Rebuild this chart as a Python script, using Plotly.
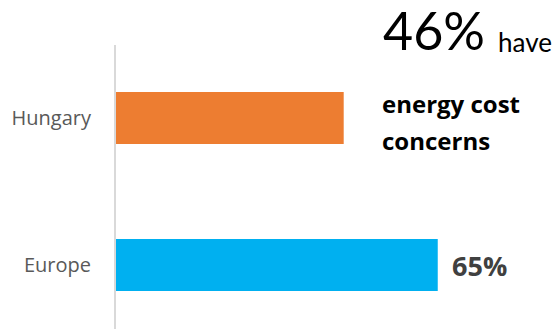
import plotly.graph_objects as go

categories = ["Europe", "Hungary"]
values = [65, 46]
colors = ["#00B0F0", "#ED7D31"]
headline_value = "46%"
headline_word = "have"
headline_rest = ["energy cost", "concerns"]
europe_label = "65%"

W, H = 556, 331
pl, pr, pt, pb = 116, 44, 45, 2
pw, ph = W - pl - pr, H - pt - pb


def px(xp):
    return (xp - pl) / pw


def py(yp):
    return (H - pb - yp) / ph


fig = go.Figure()
fig.add_trace(go.Bar(
    y=categories, x=values, orientation="h",
    marker=dict(color=colors, line=dict(width=0)),
    width=0.354, hoverinfo="skip",
))

fig.add_annotation(x=values[0], y=categories[0], xref="x", yref="y",
                   text="<b>" + europe_label + "</b>", showarrow=False,
                   xanchor="left", yanchor="middle", xshift=12,
                   font=dict(family="Open Sans", size=27, color="#404040"))

fig.add_annotation(x=px(381), y=py(63), xref="paper", yref="paper",
                   text=headline_value, showarrow=False,
                   xanchor="left", yanchor="bottom",
                   font=dict(family="Lato", size=52, color="#000000"))

fig.add_annotation(x=px(496), y=py(60), xref="paper", yref="paper",
                   text=headline_word, showarrow=False,
                   xanchor="left", yanchor="bottom",
                   font=dict(family="Lato", size=26, color="#000000"))

for line, yy in zip(headline_rest, [104, 140]):
    fig.add_annotation(x=px(380), y=py(yy), xref="paper", yref="paper",
                       text="<b>" + line + "</b>", showarrow=False,
                       xanchor="left", yanchor="middle",
                       font=dict(family="Open Sans", size=24, color="#000000"))

fig.update_layout(
    width=W, height=H,
    margin=dict(l=pl, r=pr, t=pt, b=pb),
    paper_bgcolor="white", plot_bgcolor="white",
    showlegend=False,
    xaxis=dict(range=[0, 80], visible=False),
    yaxis=dict(categoryorder="array", categoryarray=categories,
               range=[-0.435, 1.497], showgrid=False, zeroline=False,
               showline=True, linecolor="#D9D9D9", linewidth=2,
               ticks="", ticklabelstandoff=19,
               tickfont=dict(family="Open Sans", size=20, color="#595959")),
)

fig.write_html("out.html",
               config={"displayModeBar": False, "staticPlot": True},
               post_script="document.body.style.margin='0';"
                           "document.body.style.overflow='hidden';")
